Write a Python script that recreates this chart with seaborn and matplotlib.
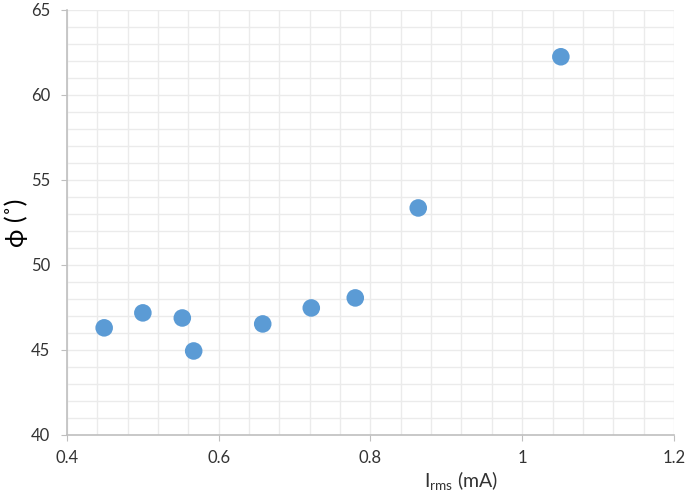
import matplotlib
matplotlib.use("Agg")
import matplotlib.pyplot as plt
from matplotlib.ticker import MultipleLocator
import seaborn as sns
import pandas as pd

# current (mA) vs phase angle (deg)
i_rms = [0.449, 0.500, 0.552, 0.567, 0.658, 0.722, 0.780, 0.863, 1.051]
phi = [46.3, 47.18, 46.88, 44.94, 46.53, 47.47, 48.06, 53.35, 62.24]

df = pd.DataFrame({"I_rms": i_rms, "phi": phi})

sns.set_style("white")
plt.rcParams['font.family'] = ['Lato', 'DejaVu Sans']
plt.rcParams['mathtext.default'] = 'regular'

fig = plt.figure(figsize=(6.85, 4.99), dpi=100)
ax = fig.add_axes([0.0978, 0.1283, 0.886, 0.852])

sns.scatterplot(data=df, x="I_rms", y="phi", ax=ax, s=160, color="#5B9BD5",
                edgecolor="none", zorder=3)

ax.set_xlim(0.4, 1.2)
ax.set_ylim(40, 65)
ax.xaxis.set_major_locator(MultipleLocator(0.2))
ax.xaxis.set_minor_locator(MultipleLocator(0.04))
ax.yaxis.set_major_locator(MultipleLocator(5))
ax.yaxis.set_minor_locator(MultipleLocator(1))
ax.set_xticklabels([f"{v:g}" for v in ax.get_xticks()])

ax.grid(True, which="both", color="#ebebeb", linewidth=1)
ax.set_axisbelow(True)
for s in ["top", "right"]:
    ax.spines[s].set_visible(False)
for s in ["left", "bottom"]:
    ax.spines[s].set_color("#bfbfbf")
    ax.spines[s].set_linewidth(1.2)

ax.tick_params(which="major", length=4, color="#bfbfbf", labelsize=12,
               labelcolor="#333333", bottom=True, left=True, direction="out")
ax.tick_params(which="minor", length=0)
ax.tick_params(axis="x", pad=7)
ax.tick_params(axis="y", pad=8)

ax.set_xlabel("I$_{rms}$ (mA)", fontsize=14, color="#333333")
ax.xaxis.set_label_coords(0.65, -0.08)
ax.set_ylabel("ϕ (˚)", fontsize=18, color="black")
ax.yaxis.set_label_coords(-0.064, 0.5)

fig.savefig("out.png", dpi=100)
